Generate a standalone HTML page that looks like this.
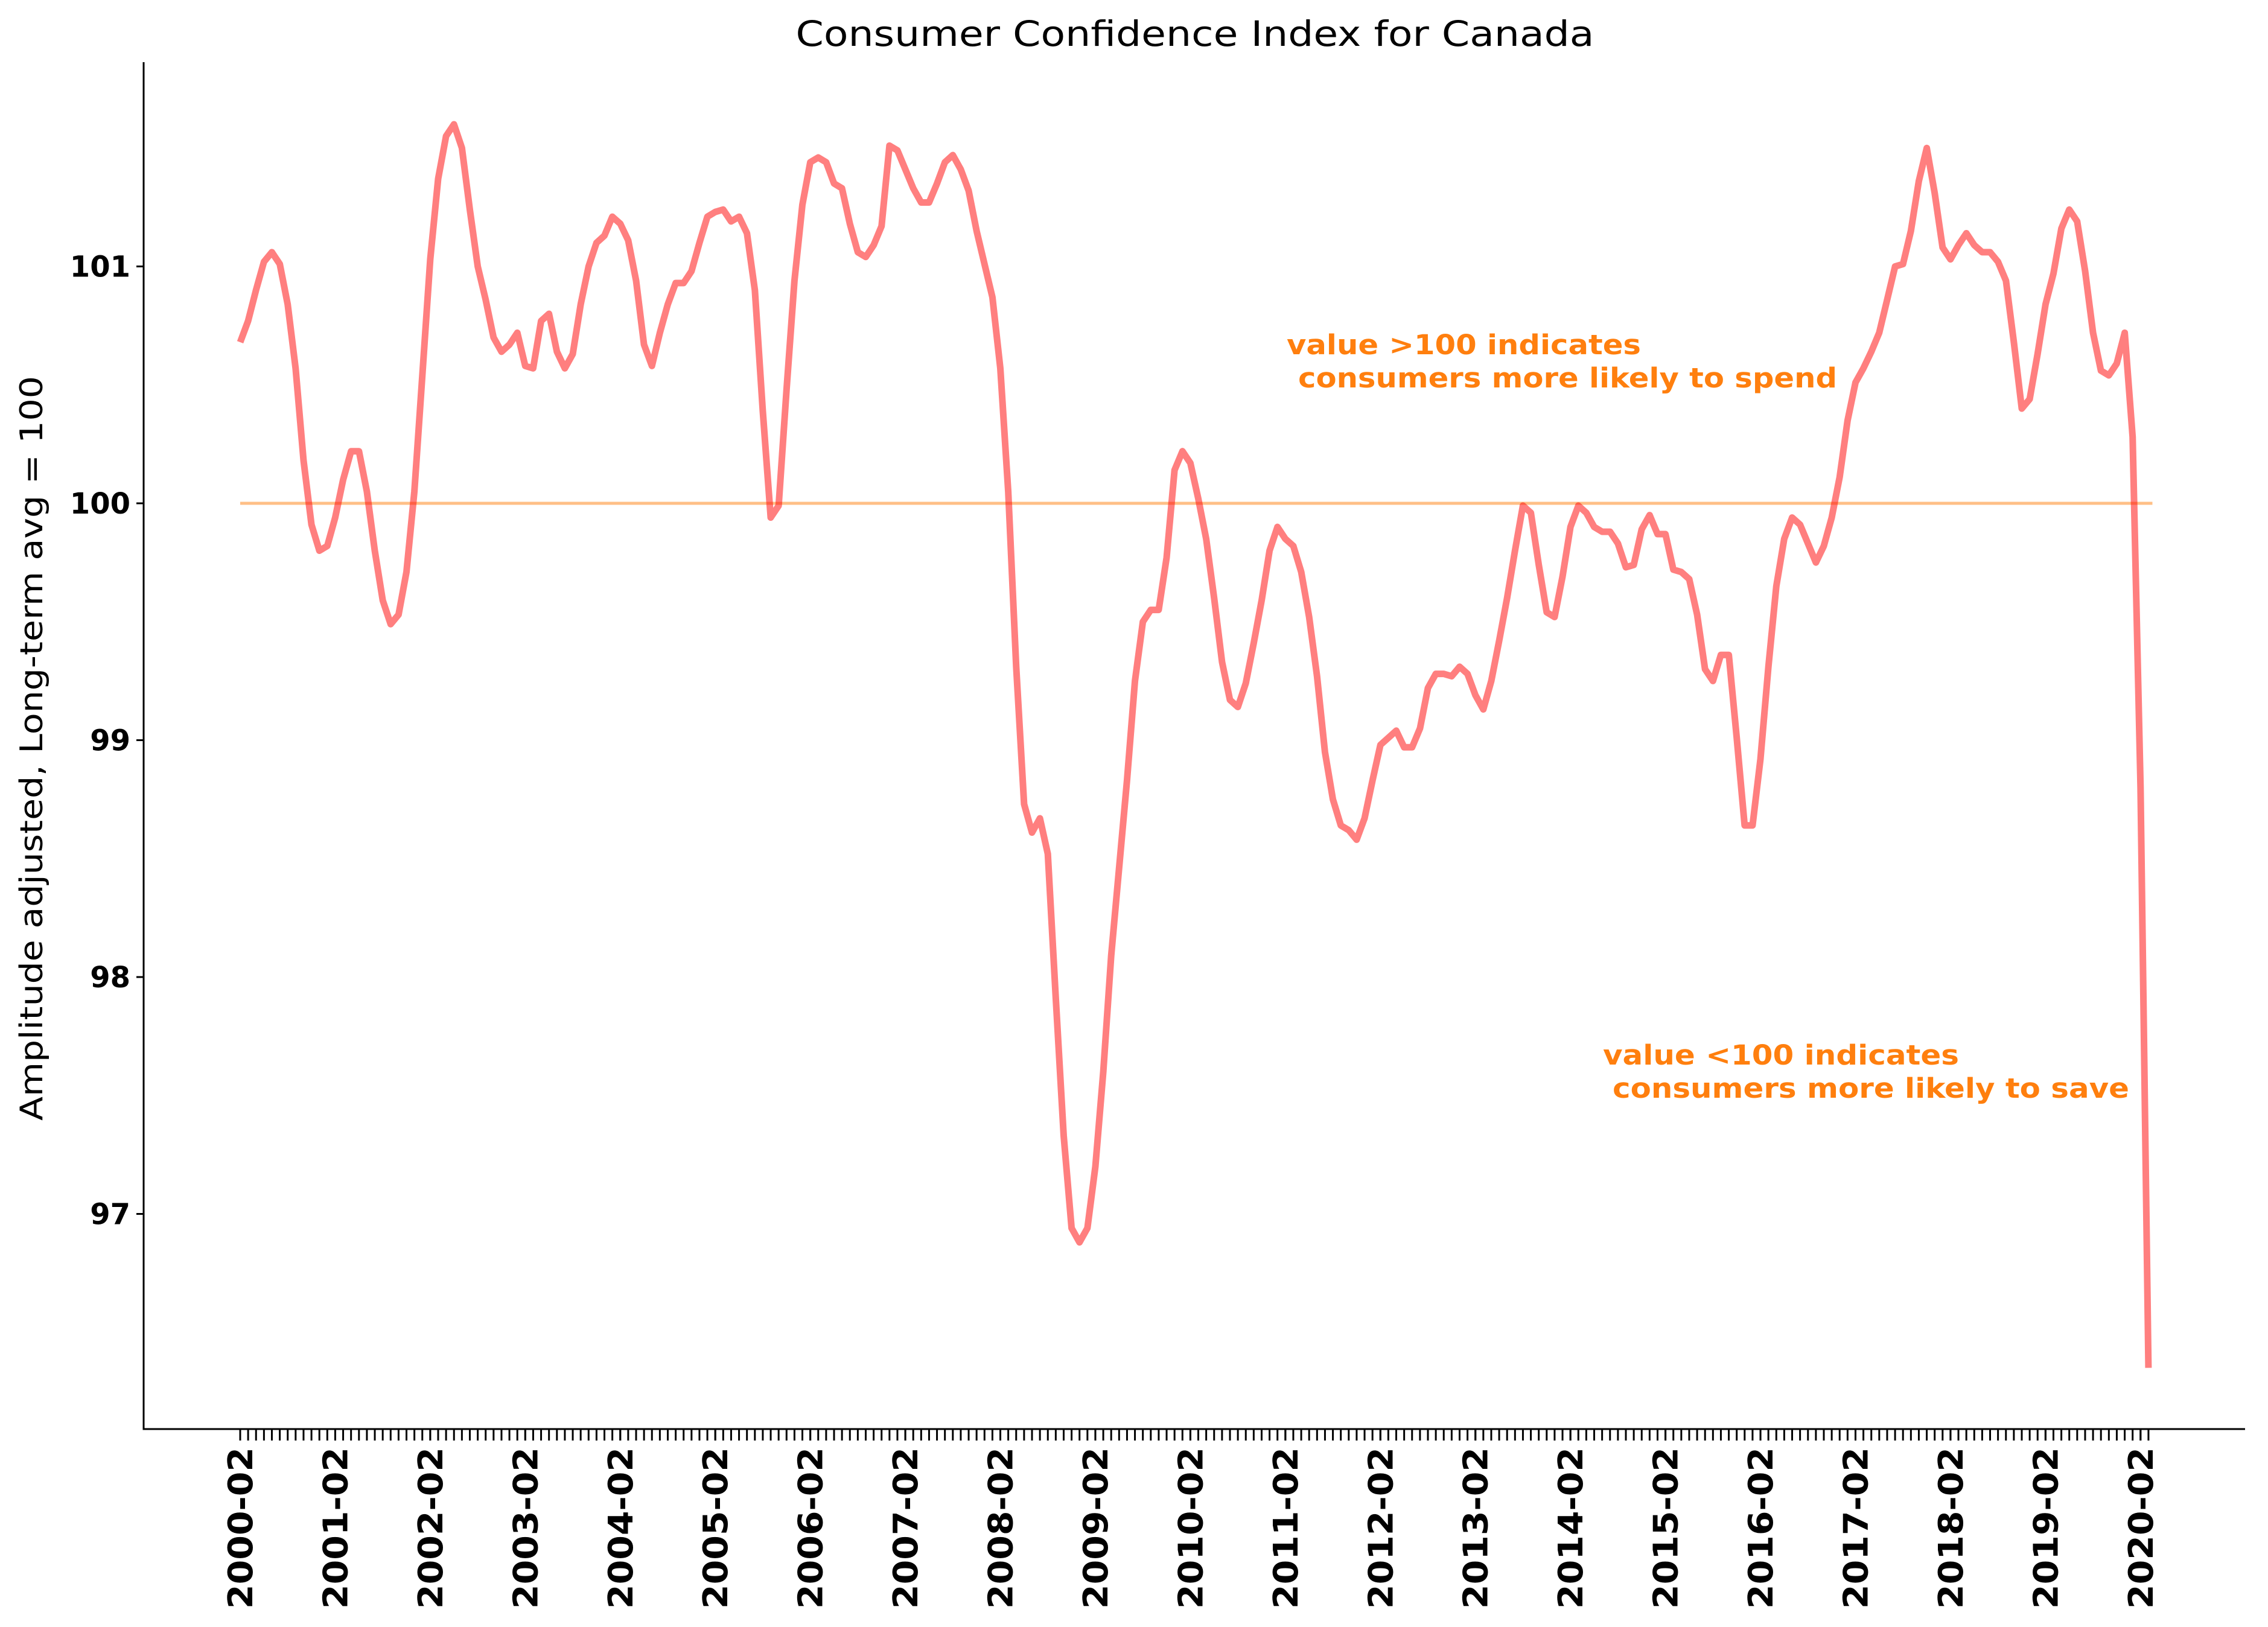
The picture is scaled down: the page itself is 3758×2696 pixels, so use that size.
<!DOCTYPE html>
<html><head><meta charset="utf-8"><style>html,body{margin:0;padding:0;background:#fff}svg{display:block}</style></head>
<body>
<svg id="chart" width="3758" height="2696" viewBox="0 0 3758 2696" xmlns="http://www.w3.org/2000/svg" font-family="'DejaVu Sans','Liberation Sans',sans-serif">
<rect width="3758" height="2696" fill="#fff"/>
<text x="1980" y="76" font-size="58" text-anchor="middle" fill="#000" textLength="1323" lengthAdjust="spacingAndGlyphs">Consumer Confidence Index for Canada</text>
<text transform="translate(70,1240) rotate(-90)" font-size="52" text-anchor="middle" fill="#000" textLength="1234" lengthAdjust="spacingAndGlyphs">Amplitude adjusted, Long-term avg = 100</text>
<g id="plot"></g>
<text x="2132" y="587" font-size="45" font-weight="bold" fill="#ff7f0e" textLength="587" lengthAdjust="spacingAndGlyphs">value &gt;100 indicates</text>
<text x="2151" y="642" font-size="45" font-weight="bold" fill="#ff7f0e" textLength="893" lengthAdjust="spacingAndGlyphs">consumers more likely to spend</text>
<text x="2656" y="1764" font-size="45" font-weight="bold" fill="#ff7f0e" textLength="590" lengthAdjust="spacingAndGlyphs">value &lt;100 indicates</text>
<text x="2672" y="1819" font-size="45" font-weight="bold" fill="#ff7f0e" textLength="856" lengthAdjust="spacingAndGlyphs">consumers more likely to save</text>
</svg>
<script>
const values = [100.68,100.77,100.9,101.02,101.06,101.01,100.84,100.57,100.18,99.91,99.8,99.82,99.94,100.1,100.22,100.22,100.05,99.8,99.59,99.49,99.53,99.71,100.05,100.54,101.03,101.37,101.55,101.6,101.5,101.24,101.0,100.86,100.7,100.64,100.67,100.72,100.58,100.57,100.77,100.8,100.64,100.57,100.63,100.84,101.0,101.1,101.13,101.21,101.18,101.11,100.94,100.67,100.58,100.72,100.84,100.93,100.93,100.98,101.1,101.21,101.23,101.24,101.19,101.21,101.14,100.9,100.39,99.94,99.99,100.48,100.94,101.26,101.44,101.46,101.44,101.35,101.33,101.18,101.06,101.04,101.09,101.17,101.51,101.49,101.41,101.33,101.27,101.27,101.35,101.44,101.47,101.41,101.32,101.15,101.01,100.87,100.57,100.05,99.31,98.73,98.61,98.67,98.52,97.91,97.33,96.94,96.88,96.94,97.2,97.6,98.09,98.46,98.83,99.25,99.5,99.55,99.55,99.77,100.14,100.22,100.17,100.02,99.85,99.6,99.33,99.17,99.14,99.24,99.41,99.59,99.8,99.9,99.85,99.82,99.71,99.52,99.27,98.95,98.75,98.64,98.62,98.58,98.67,98.83,98.98,99.01,99.04,98.97,98.97,99.05,99.22,99.28,99.28,99.27,99.31,99.28,99.19,99.13,99.25,99.42,99.6,99.8,99.99,99.96,99.74,99.54,99.52,99.69,99.9,99.99,99.96,99.9,99.88,99.88,99.83,99.73,99.74,99.89,99.95,99.87,99.87,99.72,99.71,99.68,99.53,99.3,99.25,99.36,99.36,99.01,98.64,98.64,98.92,99.31,99.65,99.85,99.94,99.91,99.83,99.75,99.82,99.94,100.11,100.35,100.51,100.57,100.64,100.72,100.86,101.0,101.01,101.15,101.36,101.5,101.31,101.08,101.03,101.09,101.14,101.09,101.06,101.06,101.02,100.94,100.68,100.4,100.44,100.63,100.84,100.97,101.16,101.24,101.19,100.98,100.72,100.56,100.54,100.59,100.72,100.28,98.8,96.35];
const yTicks = [97,98,99,100,101];
const xTickYears = [2000,2001,2002,2003,2004,2005,2006,2007,2008,2009,2010,2011,2012,2013,2014,2015,2016,2017,2018,2019,2020];
const referenceLevel = [100];

const NS='http://www.w3.org/2000/svg';
const plot=document.getElementById('plot');
const X0=398, DX=13.12, Y100=834, PXU=392.5;
const L=238, R=3720, T=103, B=2368;
function xs(i){return X0+DX*i;}
function ys(v){return Y100-(v-100)*PXU;}
function mk(tag,attrs){const e=document.createElementNS(NS,tag);for(const k in attrs)e.setAttribute(k,attrs[k]);plot.appendChild(e);return e;}

const ref=mk('line',{x1:xs(0),x2:xs(241.5),y1:ys(referenceLevel[0]),y2:ys(referenceLevel[0]),stroke:'#ff7f0e','stroke-opacity':'0.5','stroke-width':5});



const pts=values.map((v,i)=>xs(i).toFixed(1)+','+ys(v).toFixed(1)).join(' ');
const line=mk('polyline',{points:pts,fill:'none',stroke:'#ff0000','stroke-opacity':'0.5','stroke-width':11,'stroke-linejoin':'round'});



const ls=mk('line',{x1:L,x2:L,y1:T,y2:B+1.5,stroke:'#000','stroke-width':3});


const bs=mk('line',{x1:L-1.5,x2:R,y1:B,y2:B,stroke:'#000','stroke-width':3});



yTicks.forEach(v=>{
  const t=mk('line',{x1:L-12,x2:L,y1:ys(v),y2:ys(v),stroke:'#000','stroke-width':3});
  
  
  const tx=mk('text',{x:L-22,y:ys(v)+17,'font-size':48,'font-weight':'bold','text-anchor':'end',fill:'#000'});
  tx.textContent=String(v);
  
  
});

for(let i=0;i<values.length;i++){
  const t=mk('line',{x1:xs(i),x2:xs(i),y1:B,y2:B+19,stroke:'#000','stroke-width':3});
  
  
}
xTickYears.forEach((yr,k)=>{
  const x=xs(k*12);
  const t=mk('line',{x1:x,x2:x,y1:B,y2:B+19,stroke:'#000','stroke-width':3});
  
  
  const tx=mk('text',{transform:'translate('+(x+20)+','+(B+30)+') rotate(-90)','font-size':56,'font-weight':'bold','text-anchor':'end',fill:'#000',textLength:268,lengthAdjust:'spacingAndGlyphs'});
  tx.textContent=yr+'-02';
  
  
});
</script>
</body></html>
